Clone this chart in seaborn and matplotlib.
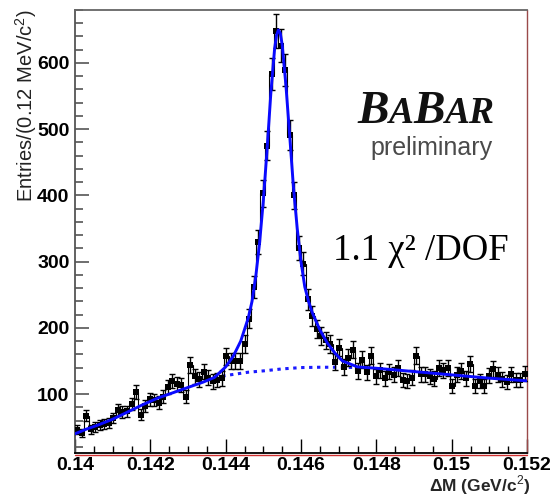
import numpy as np
import pandas as pd
import matplotlib
matplotlib.use("Agg")
import matplotlib.pyplot as plt
import seaborn as sns
from matplotlib.offsetbox import TextArea, HPacker, AnchoredOffsetbox
from matplotlib.ticker import MultipleLocator
from matplotlib.lines import Line2D

# ---------------- data ----------------
bin_lo = 0.140
bin_hi = 0.152
n_bins = 100

counts = [
    46, 41, 67, 47, 50, 53, 55, 57, 64, 76,
    73, 74, 85, 103, 69, 82, 92, 91, 87, 96,
    110, 120, 115, 113, 96, 144, 127, 122, 134, 125,
    119, 121, 124, 157, 150, 150, 150, 176, 214, 262,
    330, 403, 475, 584, 648, 626, 589, 491, 400, 321,
    297, 243, 218, 198, 188, 181, 176, 148, 170, 141,
    155, 167, 135, 152, 133, 158, 127, 136, 124, 134,
    129, 139, 121, 120, 125, 158, 130, 130, 127, 123,
    139, 136, 139, 112, 129, 135, 124, 145, 112, 120,
    112, 128, 138, 129, 122, 118, 130, 121, 121, 131,
]

fit_x = [0.1400, 0.1403, 0.1406, 0.1410, 0.1414, 0.1418, 0.1422, 0.1426,
         0.1430, 0.1434, 0.1437, 0.1440, 0.1442, 0.1444, 0.1446, 0.1447,
         0.1448, 0.1449, 0.1450, 0.1451, 0.1452, 0.1453, 0.14535, 0.1454,
         0.14545, 0.1455, 0.1456, 0.1457, 0.1458, 0.1459, 0.1460, 0.1461,
         0.1462, 0.1463, 0.1465, 0.1467, 0.1469, 0.1471, 0.1475, 0.1480,
         0.1485, 0.1490, 0.1495, 0.1500, 0.1505, 0.1510, 0.1515, 0.1520]
fit_y = [40, 47, 53, 62, 73, 84, 94, 102,
         110, 118, 125, 141, 157, 180, 215, 240,
         278, 328, 392, 470, 555, 622, 642, 650,
         645, 628, 566, 490, 412, 350, 300, 262,
         240, 223, 197, 177, 162, 150, 141, 139,
         136.5, 134, 131.5, 129, 126.5, 124, 122, 120]

bg_x = [0.1437, 0.1440, 0.1443, 0.1446, 0.1450, 0.1455, 0.1460, 0.1465, 0.1470, 0.1476]
bg_y = [125, 128, 130.5, 133, 135, 138, 140, 140.5, 140.5, 140]

x_ticks = [0.140, 0.142, 0.144, 0.146, 0.148, 0.150, 0.152]
x_tick_labels = ["0.14", "0.142", "0.144", "0.146", "0.148", "0.15", "0.152"]
y_ticks = [100, 200, 300, 400, 500, 600]
y_tick_labels = ["100", "200", "300", "400", "500", "600"]

x_label = "ΔM (GeV/c$^{2}$)"
y_label = "Entries/(0.12 MeV/c$^{2}$)"
chi2_text = "1.1 χ² /DOF"

# ---------------- style ----------------
sns.set_style("ticks")
plt.rcParams["font.family"] = ["Liberation Sans", "DejaVu Sans"]
plt.rcParams["mathtext.fontset"] = "custom"
plt.rcParams["mathtext.rm"] = "Liberation Sans"
plt.rcParams["mathtext.bf"] = "Liberation Sans:bold"

W, H = 550, 498
fig = plt.figure(figsize=(W / 100, H / 100), dpi=100)
fig.patch.set_facecolor("white")
ax = fig.add_axes([75 / W, 1 - 453 / H, 452 / W, 443 / H])
ax.set_facecolor("white")

edges = np.linspace(bin_lo, bin_hi, n_bins + 1)
centers = 0.5 * (edges[:-1] + edges[1:])
hist_df = pd.DataFrame({"dm": centers, "entries": counts})
fit_df = pd.DataFrame({"dm": fit_x, "val": fit_y})
bg_df = pd.DataFrame({"dm": bg_x, "val": bg_y})

# background (dotted)
sns.lineplot(data=bg_df, x="dm", y="val", ax=ax, color="#1a1aff",
             linewidth=2.2, linestyle=(0, (1.1, 1.5)), sort=False,
             estimator=None, zorder=2)

# histogram outline
ax.stairs(counts, edges, baseline=None, color="black", linewidth=0.8, zorder=3)

# error bars
ax.errorbar(hist_df["dm"], hist_df["entries"], yerr=np.sqrt(hist_df["entries"]),
            fmt="none", ecolor="black", elinewidth=1.0, capsize=2.4,
            capthick=1.0, zorder=4)

# markers
sns.scatterplot(data=hist_df, x="dm", y="entries", ax=ax, marker="s", s=20,
                color="black", edgecolor="black", linewidth=0, zorder=5,
                legend=False)

# fit
sns.lineplot(data=fit_df, x="dm", y="val", ax=ax, color="#0a0aff",
             linewidth=2.1, sort=False, estimator=None, zorder=6)

ax.set_xlim(bin_lo, bin_hi)
ax.set_ylim(11, 680)

ax.set_xticks(x_ticks, labels=x_tick_labels)
ax.set_yticks(y_ticks, labels=y_tick_labels)
ax.xaxis.set_minor_locator(MultipleLocator(0.0005))
ax.yaxis.set_minor_locator(MultipleLocator(20))

for lab in ax.get_xticklabels() + ax.get_yticklabels():
    lab.set_fontweight("bold")
    lab.set_fontsize(14)
    lab.set_color("black")

ax.tick_params(axis="x", which="major", direction="in", length=10, width=1.0,
               color="black", pad=3, top=False)
ax.tick_params(axis="x", which="minor", direction="in", length=5, width=1.0,
               color="black", top=False)
ax.tick_params(axis="y", which="major", direction="in", length=10, width=1.2,
               color="#555555", pad=4, right=False)
ax.tick_params(axis="y", which="minor", direction="in", length=5.5, width=1.2,
               color="#555555", right=False)

ax.spines["left"].set_color("#555555")
ax.spines["left"].set_linewidth(1.3)
ax.spines["top"].set_color("#666666")
ax.spines["top"].set_linewidth(1.3)
ax.spines["right"].set_color("#9a4a4a")
ax.spines["right"].set_linewidth(1.0)
ax.spines["bottom"].set_color("black")
ax.spines["bottom"].set_linewidth(1.3)
red = Line2D([0, 1], [-0.005, -0.005], transform=ax.transAxes, color="#d03030",
             linewidth=1.0, clip_on=False)
ax.add_line(red)

ax.set_xlabel(x_label, fontsize=12.5, fontweight="bold")
ax.xaxis.set_label_coords(1.007, -0.073)
ax.xaxis.label.set_ha("right")
ax.xaxis.label.set_va("center")

ax.set_ylabel(y_label, fontsize=14.5, color="#222222")
ax.yaxis.set_label_coords(-0.108, 0.785)
ax.yaxis.label.set_va("center")
ax.yaxis.label.set_ha("center")

# BaBar logo
serif = dict(family=["Liberation Serif", "DejaVu Serif"], style="italic",
             weight="bold", color="#111111")
big = dict(serif, fontsize=34)
small = dict(serif, fontsize=27)
parts = [TextArea("B", textprops=big), TextArea("A", textprops=small),
         TextArea("B", textprops=big), TextArea("AR", textprops=small)]
pack = HPacker(children=parts, align="baseline", pad=0, sep=0)
box = AnchoredOffsetbox(loc="lower left", child=pack, pad=0, borderpad=0,
                        frameon=False, bbox_to_anchor=(357 / W, 1 - 133 / H),
                        bbox_transform=fig.transFigure)
fig.add_artist(box)

fig.text(370 / W, 1 - 155 / H, "preliminary", fontsize=18, color="#4a4a4a",
         ha="left", va="baseline")

fig.text(333 / W, 1 - 260 / H, chi2_text, fontsize=26.5,
         family=["Liberation Serif", "DejaVu Serif"], color="black",
         ha="left", va="baseline")

fig.savefig("out.png", dpi=100, facecolor="white")
